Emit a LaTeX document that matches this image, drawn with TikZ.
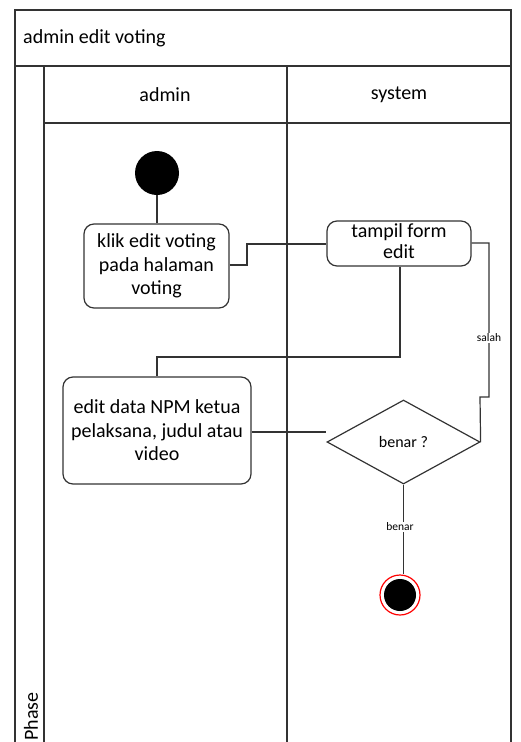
\documentclass[tikz,border=0pt]{standalone}
\usepackage{fontspec}
\setmainfont{Carlito}
\usetikzlibrary{shapes.geometric}
\definecolor{ln}{HTML}{333333}
\tikzset{
  frame/.style={draw=ln, line width=1.2pt},
  act/.style={draw=ln, line width=1.2pt, rounded corners=10pt, align=center, font=\fontsize{20}{23.5}\selectfont, inner sep=0pt},
  flow/.style={draw=ln, line width=1.2pt},
  lbl/.style={fill=white, font=\fontsize{11.5}{12}\selectfont, inner sep=1pt},
  hdr/.style={font=\fontsize{20}{24}\selectfont, inner sep=0pt},
}
\begin{document}
\begin{tikzpicture}[x=1pt,y=-1pt]
\useasboundingbox (0,0) rectangle (520,742);
% frame
\draw[frame] (15,742) -- (15,10) -- (511,10) -- (511,742);
\draw[frame] (15,66) -- (511,66);
\draw[frame] (44,123) -- (511,123);
\draw[frame] (44,66) -- (44,742);
\draw[frame] (287,66) -- (287,742);
\node[hdr, anchor=west] (title) at (23,38) {admin edit voting};
\node[hdr] (lanea) at (165,95) {admin};
\node[hdr] (lanes) at (399,95) {system};
\node[hdr, rotate=90, anchor=west] (phase) at (31,741) {Phase};
% nodes
\node[circle, fill=black, minimum size=44pt, inner sep=0pt] (start) at (157,173) {};
\node[act, minimum width=145pt, minimum height=84pt] (a1) at (156.5,266) {klik edit voting\\pada halaman\\voting};
\node[act, minimum width=144pt, minimum height=43pt] (a2) at (399,243.5) {\raisebox{3pt}{\begin{tabular}{@{}c@{}}tampil form\\[-2pt]edit\end{tabular}}};
\node[act, minimum width=188pt, minimum height=107pt] (a3) at (157,430.5) {edit data NPM ketua\\pelaksana, judul atau\\video};
\node[diamond, draw=ln, line width=1.2pt, minimum width=153pt, minimum height=84pt, inner sep=0pt, aspect=1.82, font=\fontsize{16}{18}\selectfont] (dec) at (403.5,442) {benar ?};
\node[circle, draw=red, line width=1.2pt, minimum size=40pt, inner sep=0pt] (endo) at (400,595) {};
\node[circle, fill=black, minimum size=32pt, inner sep=0pt] (endi) at (400,595) {};
% flows
\draw[flow] (start) -- (a1.north -| start);
\draw[flow] (a1.east |- 0,265) -- (247,265) -- (247,244) -- (a2.west |- 0,244);
\draw[flow] (a2.south -| 400,0) -- (400,357) -- (157,357) -- (a3.north -| 157,0);
\draw[flow] (a3.east |- 0,432) -- (dec.west |- 0,432) ;
\coordinate (c1) at (489,243);
\draw[flow] (a2.east |- c1) -- (489,243) -- (489,397) -- (480,397) -- (dec.east);
\node[lbl] (ls) at (489,338) {salah};
\draw[flow] (dec.south) -- (endo.north -| dec.south);
\node[lbl] (lb) at (400,527) {benar};
\end{tikzpicture}
\end{document}
